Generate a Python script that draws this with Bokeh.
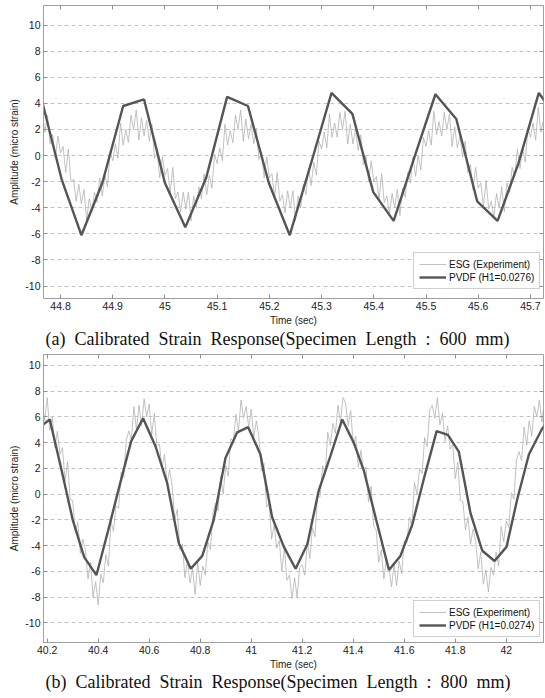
import numpy as np
from bokeh.plotting import figure
from bokeh.models import (Range1d, FixedTicker, CustomJSTickFormatter, LinearAxis,
                          Legend, LegendItem, Title)
from bokeh.layouts import column
from bokeh.embed import file_html
from bokeh.resources import INLINE

# ---------------- data: panel (a), 600 mm ----------------
esg_a_t0, esg_a_dt = 44.765, 0.005
esg_a = [3.3, 1.8, 3.1, 0.9, 1.6, -0.2, 1.5, 0.2, 0.7, -1.3,
         0.5, -2.0, -1.8, -3.5, -2.2, -3.7, -2.6, -5.0, -3.3, -4.3,
         -2.8, -3.6, -1.7, -3.1, -1.5, -2.4, 0.3, -0.4, 0.9, -0.2,
         2.5, 0.8, 2.0, 1.0, 3.1, 2.0, 3.5, 1.2, 2.9, 1.5,
         2.7, 1.1, 2.4, -0.2, 0.3, -1.7, -0.1, -1.5, -1.0, -2.9,
         -0.9, -3.3, -2.8, -4.3, -2.8, -4.1, -2.8, -5.0, -3.1, -4.0,
         -2.4, -3.3, -1.4, -3.0, -1.5, -2.5, 0.1, -0.6, 0.6, -0.4,
         2.4, 0.8, 1.9, 1.0, 3.1, 2.0, 3.5, 1.1, 2.8, 1.3,
         2.4, 0.9, 2.1, -0.3, 0.3, -1.7, -0.1, -1.7, -1.4, -3.2,
         -1.3, -3.5, -3.0, -4.4, -2.7, -4.0, -2.7, -5.0, -3.1, -4.0,
         -2.2, -3.0, -1.0, -2.3, -0.5, -1.5, 1.1, 0.5, 1.8, 0.6,
         3.2, 1.4, 2.5, 1.4, 3.3, 2.0, 3.4, 0.9, 2.4, 0.9,
         2.0, 0.4, 1.6, -0.7, 0.0, -2.0, -0.4, -2.0, -1.6, -3.4,
         -1.4, -3.6, -3.1, -4.5, -2.9, -4.0, -2.6, -4.6, -2.5, -3.2,
         -1.3, -2.1, -0.1, -1.6, 0.0, -1.1, 1.4, 0.7, 1.9, 0.8,
         3.4, 1.6, 2.6, 1.5, 3.3, 2.0, 3.2, 0.7, 2.2, 0.6,
         1.5, -0.1, 1.1, -1.3, -0.7, -2.6, -0.9, -2.5, -2.1, -3.9,
         -1.9, -4.1, -3.5, -4.7, -2.9, -4.0, -2.4, -4.3, -2.1, -2.8,
         -0.9, -1.6, 0.5, -1.0, 0.6, -0.5, 2.1, 1.4, 2.5, 1.2,
         3.7, 1.8, 2.7]
pvdf_a_t = [44.762, 44.802, 44.840, 44.880, 44.920, 44.960, 45.000, 45.039, 45.079,
            45.119, 45.159, 45.199, 45.239, 45.279, 45.319, 45.359, 45.399, 45.438,
            45.478, 45.518, 45.558, 45.598, 45.637, 45.677, 45.716, 45.756]
pvdf_a = [4.6, -1.8, -6.1, -2.1, 3.8, 4.3, -2.1, -5.5, -1.7, 4.5, 3.8, -2.1, -6.1,
          -0.7, 4.8, 3.2, -2.8, -5.0, -0.1, 4.7, 2.8, -3.5, -5.0, -0.6, 4.8, 2.6]
xticks_a = [44.8, 44.9, 45.0, 45.1, 45.2, 45.3, 45.4, 45.5, 45.6, 45.7]
label_a = "PVDF (H1=0.0276)"
caption_a = "(a)\u00a0\u00a0Calibrated\u00a0\u00a0Strain\u00a0\u00a0Response(Specimen\u00a0\u00a0Length\u00a0\u00a0:\u00a0\u00a0600\u00a0\u00a0mm)"

# ---------------- data: panel (b), 800 mm ----------------
esg_b_t0, esg_b_dt = 40.18, 0.01
esg_b = [7.2, 5.7, 7.5, 5.0, 6.0, 3.6, 4.9, 3.1, 3.6, 1.0,
         2.5, -0.4, -0.5, -2.9, -2.2, -4.6, -3.5, -4.4, -6.6, -5.3,
         -8.0, -6.8, -8.6, -6.2, -6.9, -4.7, -5.6, -2.1, -2.9, -0.9,
         -1.1, 1.7, 1.3, 4.2, 4.9, 4.2, 6.8, 5.0, 6.9, 5.3,
         7.4, 6.0, 7.0, 4.6, 6.3, 3.7, 3.9, 2.0, 3.1, 0.8,
         1.9, 0.6, -2.0, -1.2, -4.3, -3.9, -6.5, -5.2, -6.9, -5.8,
         -7.8, -5.3, -7.1, -5.6, -6.3, -3.7, -4.3, -1.4, -0.7, -1.3,
         1.4, 0.0, 2.2, 1.4, 4.3, 4.1, 6.2, 4.9, 7.3, 5.9,
         6.8, 5.2, 6.6, 4.4, 5.7, 4.4, 1.8, 2.4, -1.0, -0.7,
         -3.5, -2.4, -4.2, -3.6, -6.0, -4.2, -6.7, -6.3, -8.1, -6.5,
         -8.0, -5.7, -5.5, -6.3, -3.7, -5.0, -2.6, -3.3, -0.2, -0.2,
         2.2, 1.5, 4.8, 3.8, 5.5, 4.7, 6.9, 5.6, 7.5, 7.1,
         5.3, 6.5, 3.8, 4.5, 2.1, 3.4, 1.8, 2.1, -0.6, 0.6,
         -2.5, -2.8, -5.3, -4.3, -6.6, -5.0, -5.7, -7.2, -5.5, -7.1,
         -5.2, -6.2, -3.6, -3.8, -1.8, -2.5, 0.9, 0.0, 2.0, 1.6,
         4.4, 3.7, 6.6, 6.9, 5.9, 7.5, 5.4, 6.3, 4.1, 5.3,
         3.5, 3.9, 1.2, 2.5, -0.5, -0.6, -2.8, -1.8, -3.9, -2.7,
         -3.7, -5.8, -4.5, -7.0, -5.9, -7.6, -5.7, -6.3, -4.5, -5.6,
         -2.5, -3.7, -2.1, -2.6, 0.1, -0.4, 2.7, 3.3, 2.6, 5.2,
         3.8, 5.7, 4.5, 6.8, 6.0, 7.3, 5.6, 7.4, 5.8]
pvdf_b_t = [40.164, 40.21, 40.256, 40.30, 40.345, 40.393, 40.438, 40.483, 40.529,
            40.576, 40.625, 40.67, 40.716, 40.763, 40.808, 40.853, 40.899, 40.945,
            40.988, 41.036, 41.082, 41.128, 41.174, 41.22, 41.265, 41.311, 41.357,
            41.402, 41.442, 41.49, 41.54, 41.585, 41.631, 41.677, 41.727, 41.771,
            41.814, 41.86, 41.906, 41.954, 42.001, 42.043, 42.089, 42.141, 42.18]
pvdf_b = [5.1, 5.8, 1.9, -2.0, -4.9, -6.3, -2.9, 0.6, 4.1, 5.9, 3.7, 0.9, -3.8, -5.8,
          -4.8, -2.0, 2.8, 4.8, 5.2, 3.1, -1.8, -4.1, -5.8, -3.9, 0.3, 3.0, 5.8, 4.0,
          1.8, -2.0, -5.9, -4.8, -2.4, 1.2, 4.9, 4.6, 3.3, -1.5, -4.4, -5.2, -4.1,
          -0.4, 3.1, 5.1, 6.0]
xticks_b = [40.2, 40.4, 40.6, 40.8, 41.0, 41.2, 41.4, 41.6, 41.8, 42.0]
label_b = "PVDF (H1=0.0274)"
caption_b = "(b)\u00a0\u00a0Calibrated\u00a0\u00a0Strain\u00a0\u00a0Response(Specimen\u00a0\u00a0Length\u00a0\u00a0:\u00a0\u00a0800\u00a0\u00a0mm)"

yticks = [-10, -8, -6, -4, -2, 0, 2, 4, 6, 8, 10]

SANS = "Liberation Sans"
FMT = "return (Math.round(tick*100)/100).toString();"


def panel(esg_t, esg_v, pv_t, pv_v, pv_label, xr, yr, xticks, caption,
          frame_h, top_b, bottom_b, leg_loc, cap_standoff):
    p = figure(frame_width=500, frame_height=frame_h,
               x_range=Range1d(*xr), y_range=Range1d(*yr),
               output_backend="svg", toolbar_location=None,
               min_border_left=43, min_border_right=2,
               min_border_top=top_b, min_border_bottom=bottom_b)
    p.outline_line_color = "#a0a0a0"
    p.outline_line_width = 1

    r1 = p.line(esg_t, esg_v, line_color="#b2b2b2", line_width=0.8)
    r2 = p.line(pv_t, pv_v, line_color="#555555", line_width=2.4)

    p.xgrid.visible = False
    p.ygrid.ticker = FixedTicker(ticks=yticks)
    p.ygrid.grid_line_color = "#c4c4c4"
    p.ygrid.grid_line_dash = "4 3"
    p.ygrid.grid_line_width = 1

    for ax, ticks in ((p.xaxis[0], xticks), (p.yaxis[0], yticks)):
        ax.ticker = FixedTicker(ticks=ticks)
        ax.formatter = CustomJSTickFormatter(code=FMT)
        ax.major_tick_in = 4
        ax.major_tick_out = 0
        ax.minor_tick_line_color = None
        ax.axis_line_color = "#a0a0a0"
        ax.major_tick_line_color = "#909090"
        ax.major_label_text_font = SANS
        ax.major_label_text_font_size = "10.5px"
        ax.major_label_text_color = "#222222"
        ax.major_label_standoff = 3
        ax.axis_label_text_font = SANS
        ax.axis_label_text_font_size = "10px"
        ax.axis_label_text_font_style = "normal"
        ax.axis_label_text_color = "#222222"
        ax.axis_label_standoff = 2
    p.xaxis[0].axis_label = "Time (sec)"
    p.yaxis[0].axis_label = "Amplitude (micro strain)"

    for loc, ticks in (("above", xticks), ("right", yticks)):
        ax = LinearAxis(ticker=FixedTicker(ticks=ticks),
                        formatter=CustomJSTickFormatter(code="return '';"),
                        major_tick_in=4, major_tick_out=0,
                        minor_tick_line_color=None, axis_line_color=None,
                        major_tick_line_color="#909090",
                        major_label_standoff=0, major_label_text_font_size="1px")
        p.add_layout(ax, loc)

    legend = Legend(items=[LegendItem(label="ESG (Experiment)", renderers=[r1]),
                           LegendItem(label=pv_label, renderers=[r2])],
                    location=leg_loc, orientation="vertical",
                    label_text_font=SANS, label_text_font_size="10px",
                    label_text_color="#111111",
                    glyph_width=27, glyph_height=12, label_height=12,
                    label_standoff=3, spacing=1, padding=5, margin=0,
                    border_line_color="#a0a0a0", background_fill_color="white",
                    background_fill_alpha=1.0)
    p.add_layout(legend)

    t = Title(text=caption, text_font="Liberation Serif", text_font_size="18px",
              text_font_style="normal", text_color="#111111",
              align="left", offset=2, standoff=cap_standoff)
    p.add_layout(t, "below")
    return p


t_a = np.round(esg_a_t0 + esg_a_dt * np.arange(len(esg_a)), 4)
t_b = np.round(esg_b_t0 + esg_b_dt * np.arange(len(esg_b)), 4)

p1 = panel(t_a, esg_a, pvdf_a_t, pvdf_a, label_a, (44.7674, 45.725), (-10.95, 11.5),
           xticks_a, caption_a, 293, 5, 52, (370, 9), -3)
p2 = panel(t_b, esg_b, pvdf_b_t, pvdf_b, label_b, (40.1855, 42.146), (-11.53, 10.85),
           xticks_b, caption_b, 288, 4, 56, (370, 5), -5)

layout = column(p1, p2, spacing=0)
open("out.html", "w").write(file_html(layout, INLINE))
